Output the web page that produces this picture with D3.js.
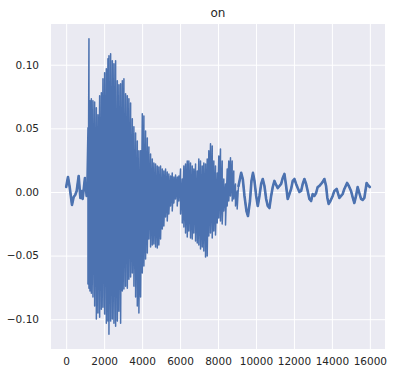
<!DOCTYPE html>
<html>
<head>
<meta charset="utf-8">
<script src="https://cdn.jsdelivr.net/npm/d3@7"></script>
<style>
  html, body { margin: 0; padding: 0; background: #fff; }
  svg { display: block; font-family: "DejaVu Sans", sans-serif; }
</style>
</head>
<body>
<div id="chart"></div>
<script>
// Waveform "on"

const chartTitle = "on";

// quiet lead-in before the word starts (sample index / amplitude)
const onsetSamples = [0, 95, 184, 305, 395, 474, 553, 658, 747, 816, 868, 989, 1079];
const onsetValues = [0.0039, 0.0118, 0.0039, -0.0102, -0.0039, -0.0024, 0.0008, 0.0126, -0.0047, 0.0008, -0.0055, 0.011, -0.0031];

// dense voiced part: upper / lower envelope per pixel column
const burstSamples = [1147, 1200, 1253, 1326, 1410, 1500, 1589, 1674, 1763, 1853, 1937, 2026, 2116, 2200, 2253, 2342, 2431, 2516, 2605, 2695, 2779, 2868, 2958, 3042, 3131, 3221, 3305, 3395, 3484, 3568, 3658, 3747, 3831, 3921, 4010, 4095, 4184, 4274, 4358, 4447, 4537, 4621, 4710, 4800, 4884, 4973, 5063, 5147, 5237, 5326, 5410, 5500, 5589, 5674, 5763, 5852, 5937, 6026, 6116, 6200, 6289, 6379, 6463, 6552, 6642, 6726, 6816, 6905, 6989, 7079, 7168, 7252, 7342, 7431, 7516, 7605, 7695, 7779, 7868, 7958, 8042, 8131, 8221, 8305, 8395, 8484, 8568, 8658, 8747, 8831, 8921, 9010];
const burstMax = [0.0504, 0.1204, 0.0716, 0.0732, 0.0716, 0.0708, 0.0661, 0.0606, 0.0756, 0.0779, 0.0889, 0.0937, 0.0968, 0.1047, 0.107, 0.1086, 0.1031, 0.1007, 0.1031, 0.0874, 0.0842, 0.085, 0.0874, 0.0889, 0.0771, 0.0756, 0.0732, 0.07, 0.0575, 0.0512, 0.0464, 0.0401, 0.0323, 0.0323, 0.0614, 0.0598, 0.048, 0.0425, 0.0354, 0.0299, 0.026, 0.0228, 0.022, 0.0205, 0.0197, 0.0205, 0.0181, 0.0165, 0.0181, 0.0157, 0.0142, 0.0126, 0.015, 0.0118, 0.0134, 0.0118, 0.0126, 0.0181, 0.0102, 0.0205, 0.022, 0.0244, 0.0244, 0.0228, 0.0205, 0.0181, 0.022, 0.0165, 0.026, 0.0244, 0.0205, 0.0228, 0.022, 0.026, 0.0323, 0.0378, 0.0362, 0.0244, 0.0205, 0.015, 0.0283, 0.0338, 0.0244, 0.0102, 0.0063, 0.0181, 0.0244, 0.0268, 0.0244, 0.0165, 0.0063, 0.0008];
const burstMin = [-0.0724, -0.0756, -0.0779, -0.0795, -0.0826, -0.0897, -0.0999, -0.0952, -0.0984, -0.0921, -0.0905, -0.096, -0.1031, -0.1015, -0.1118, -0.1015, -0.0999, -0.1031, -0.1055, -0.1015, -0.0937, -0.1031, -0.0779, -0.0763, -0.074, -0.0756, -0.0685, -0.0669, -0.0637, -0.074, -0.0826, -0.0897, -0.0952, -0.0826, -0.0637, -0.0582, -0.0527, -0.048, -0.037, -0.0433, -0.0417, -0.0409, -0.0433, -0.0441, -0.0417, -0.037, -0.0291, -0.0268, -0.0197, -0.0228, -0.0173, -0.011, -0.015, -0.0087, -0.0055, -0.011, -0.0071, -0.0173, -0.0244, -0.0275, -0.0323, -0.0354, -0.0307, -0.0362, -0.037, -0.0323, -0.0386, -0.0401, -0.0417, -0.0449, -0.0433, -0.0464, -0.0512, -0.0504, -0.0346, -0.0323, -0.0362, -0.0307, -0.0338, -0.0244, -0.0205, -0.0228, -0.0252, -0.015, -0.026, -0.011, -0.0071, -0.0031, -0.0071, -0.0055, -0.011, -0.0134];

// decaying tail
const tailSamples = [9079, 9221, 9305, 9394, 9500, 9579, 9684, 9763, 9842, 9921, 10010, 10095, 10184, 10273, 10358, 10447, 10537, 10621, 10710, 10800, 10884, 10973, 11063, 11147, 11237, 11326, 11410, 11500, 11589, 11673, 11763, 11852, 11937, 12026, 12115, 12200, 12289, 12379, 12463, 12552, 12642, 12726, 12815, 12905, 12989, 13079, 13168, 13252, 13342, 13431, 13516, 13605, 13694, 13763, 13831, 13921, 14042, 14131, 14252, 14394, 14484, 14568, 14657, 14800, 14894, 15010, 15105, 15184, 15273, 15358, 15447, 15537, 15621, 15710, 15831, 15894, 15999];
const tailValues = [0.0047, 0.015, 0.0102, -0.0031, -0.015, -0.0189, -0.0071, 0.0087, 0.015, 0.0087, -0.0031, -0.011, -0.0031, 0.0063, 0.0102, 0.0047, -0.0055, -0.011, -0.0126, -0.0031, 0.0039, 0.0087, 0.0055, 0.0031, 0.0047, 0.0063, 0.011, 0.0142, 0.0047, -0.0055, -0.0016, 0.0024, 0.0087, 0.0102, 0.0063, 0.0031, 0, 0.0008, 0.0063, 0.0102, 0.0063, 0.0008, -0.0055, -0.0071, -0.0016, -0.0031, -0.0008, 0.0039, 0.0047, 0.0063, 0.0079, 0.0102, 0.0047, -0.0047, -0.0094, -0.0071, -0.0031, 0.0008, 0.0024, -0.0047, -0.0031, -0.0016, 0.0024, 0.0071, 0.0047, 0.0008, -0.0047, -0.0087, -0.0031, 0.0039, -0.0008, -0.0055, -0.0063, -0.0047, 0.0071, 0.0055, 0.0039];

const xTicks = [0, 2000, 4000, 6000, 8000, 10000, 12000, 14000, 16000];
const yTicks = [-0.10, -0.05, 0.00, 0.05, 0.10];

const W = 394, H = 376;
const margin = { top: 24, right: 9, bottom: 27, left: 51 };

const onset = onsetSamples.map((s, i) => ({ s, v: onsetValues[i] }));
const tail = tailSamples.map((s, i) => ({ s, v: tailValues[i] }));
const burst = [];
burstSamples.forEach((s, i) => {
    burst.push({ s, v: burstMax[i] });
    burst.push({ s, v: burstMin[i] });
});
const all = onset.concat(burst, tail);

const svg = d3.select("#chart").append("svg")
    .attr("width", W)
    .attr("height", H);

// matplotlib style 5% margins
const [xMin, xMax] = d3.extent(all, d => d.s);
const [yMin, yMax] = d3.extent(all, d => d.v);
const xPad = (xMax - xMin) * 0.05, yPad = (yMax - yMin) * 0.05;

const x = d3.scaleLinear()
    .domain([xMin - xPad, xMax + xPad])
    .range([margin.left, W - margin.right]);
const y = d3.scaleLinear()
    .domain([yMin - yPad, yMax + yPad])
    .range([H - margin.bottom, margin.top]);

// background
svg.append("rect")
    .attr("x", margin.left)
    .attr("y", margin.top)
    .attr("width", W - margin.left - margin.right)
    .attr("height", H - margin.top - margin.bottom)
    .attr("fill", "#eaeaf2");

// axes with grid
const gx = svg.append("g")
    .attr("transform", `translate(0,${H - margin.bottom})`)
    .call(d3.axisBottom(x).tickValues(xTicks).tickFormat(d3.format("d"))
        .tickSize(-(H - margin.top - margin.bottom)).tickPadding(9));
const gy = svg.append("g")
    .attr("transform", `translate(${margin.left},0)`)
    .call(d3.axisLeft(y).tickValues(yTicks).tickFormat(d3.format(".2f"))
        .tickSize(-(W - margin.left - margin.right)).tickPadding(12));

[gx, gy].forEach(g => {
    g.select(".domain").remove();
    g.selectAll(".tick line").attr("stroke", "#fff").attr("stroke-width", 1);
    g.selectAll(".tick text")
        .attr("fill", "#262626")
        .style("font-size", "10.5px")
        .style("font-family", "DejaVu Sans, sans-serif");
});

const clip = svg.append("clipPath").attr("id", "clip")
    .append("rect")
    .attr("x", margin.left).attr("y", margin.top)
    .attr("width", W - margin.left - margin.right)
    .attr("height", H - margin.top - margin.bottom);

const line = d3.line().x(d => x(d.s)).y(d => y(d.v));

const plot = svg.append("g").attr("clip-path", "url(#clip)");

plot.append("path")
    .datum(all)
    .attr("fill", "none")
    .attr("stroke", "#4c72b0")
    .attr("stroke-width", 1.5)
    .attr("stroke-linejoin", "round")
    .attr("d", line);

// the quiet parts carry fine noise, so they read as a thicker line
[onset, tail].forEach(part => {
    plot.append("path")
        .datum(part)
        .attr("fill", "none")
        .attr("stroke", "#4c72b0")
        .attr("stroke-width", 2.6)
        .attr("stroke-linejoin", "round")
        .attr("stroke-linecap", "round")
        .attr("d", line);
});

// title
svg.append("text")
    .attr("x", (margin.left + W - margin.right) / 2)
    .attr("y", 17)
    .attr("text-anchor", "middle")
    .attr("fill", "#262626")
    .style("font-size", "12px")
    .text(chartTitle);
</script>
</body>
</html>
